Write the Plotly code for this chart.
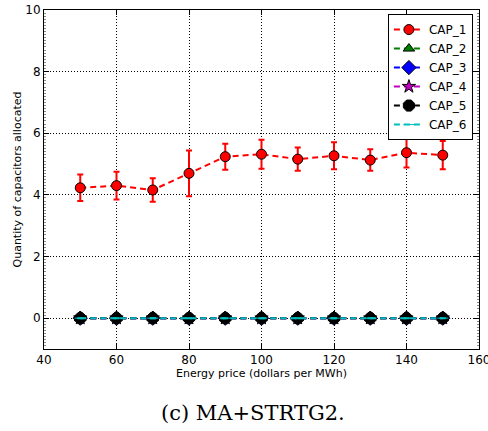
import plotly.graph_objects as go

prices = [50, 60, 70, 80, 90, 100, 110, 120, 130, 140, 150]
cap1 = [4.23, 4.30, 4.16, 4.70, 5.24, 5.32, 5.16, 5.27, 5.13, 5.37, 5.29]
cap1_err = [0.43, 0.45, 0.38, 0.74, 0.42, 0.47, 0.38, 0.44, 0.35, 0.48, 0.46]
cap2 = [0] * 11
cap3 = [0] * 11
cap4 = [0] * 11
cap5 = [0] * 11
cap6 = [0] * 11
zero_err = [0] * 11

series = [
    ("CAP_1", cap1, cap1_err, "#ff0000", "circle", 10),
    ("CAP_2", cap2, zero_err, "#007f00", "triangle-up", 10),
    ("CAP_3", cap3, zero_err, "#0000ff", "diamond", 11),
    ("CAP_4", cap4, zero_err, "#bf00bf", "star", 10),
    ("CAP_5", cap5, zero_err, "#000000", "octagon", 12),
    ("CAP_6", cap6, zero_err, "#00bfbf", "line-ew", 8),
]

fig = go.Figure()
for name, vals, errs, col, sym, size in series:
    fig.add_trace(go.Scatter(
        x=prices, y=vals, name=name, mode="lines+markers",
        line=dict(color=col, width=2, dash="6px,4px"),
        marker=dict(symbol=sym, size=size, color=col,
                    line=dict(color="black" if sym != "line-ew" else col, width=1)),
        error_y=dict(type="data", array=errs, visible=True, color=col,
                     thickness=2, width=3),
    ))

grid = dict(showline=True, linecolor="black", linewidth=1, mirror="allticks",
            ticks="inside", ticklen=5, tickcolor="black",
            showgrid=True, gridcolor="black", griddash="1px,2px", gridwidth=1,
            zeroline=False, tickfont=dict(size=12), automargin=False,
            ticklabeloverflow="allow")

fig.update_layout(
    width=488, height=431,
    margin=dict(l=44, r=9, t=10, b=82),
    paper_bgcolor="white", plot_bgcolor="white",
    font=dict(family="DejaVu Sans", size=11, color="black"),
    showlegend=True,
    legend=dict(x=0.986, y=0.988, xanchor="right", yanchor="top",
                bgcolor="white", bordercolor="black", borderwidth=1,
                font=dict(size=12), tracegroupgap=0, itemwidth=30),
    xaxis=dict(range=[40, 160], dtick=20, tick0=40,
               title=dict(text="Energy price (dollars per MWh)", font=dict(size=11), standoff=2),
               **grid),
    yaxis=dict(range=[-1, 10], dtick=2, tick0=0,
               minor=dict(ticks="inside", dtick=0.1, ticklen=2, tickcolor="#888888", showgrid=False),
               title=dict(text="Quantity of capacitors allocated", font=dict(size=11), standoff=1),
               **grid),
    annotations=[dict(text="(c) MA+STRTG2.", xref="paper", yref="paper",
                      x=(253 - 44) / 435, y=-(413 - 349) / 339,
                      xanchor="center", yanchor="middle", showarrow=False,
                      font=dict(family="DejaVu Serif", size=21, color="black"))],
)

fig.write_html("out.html", config={"displayModeBar": False},
               post_script="document.body.style.margin='0';document.body.style.overflow='hidden';")
